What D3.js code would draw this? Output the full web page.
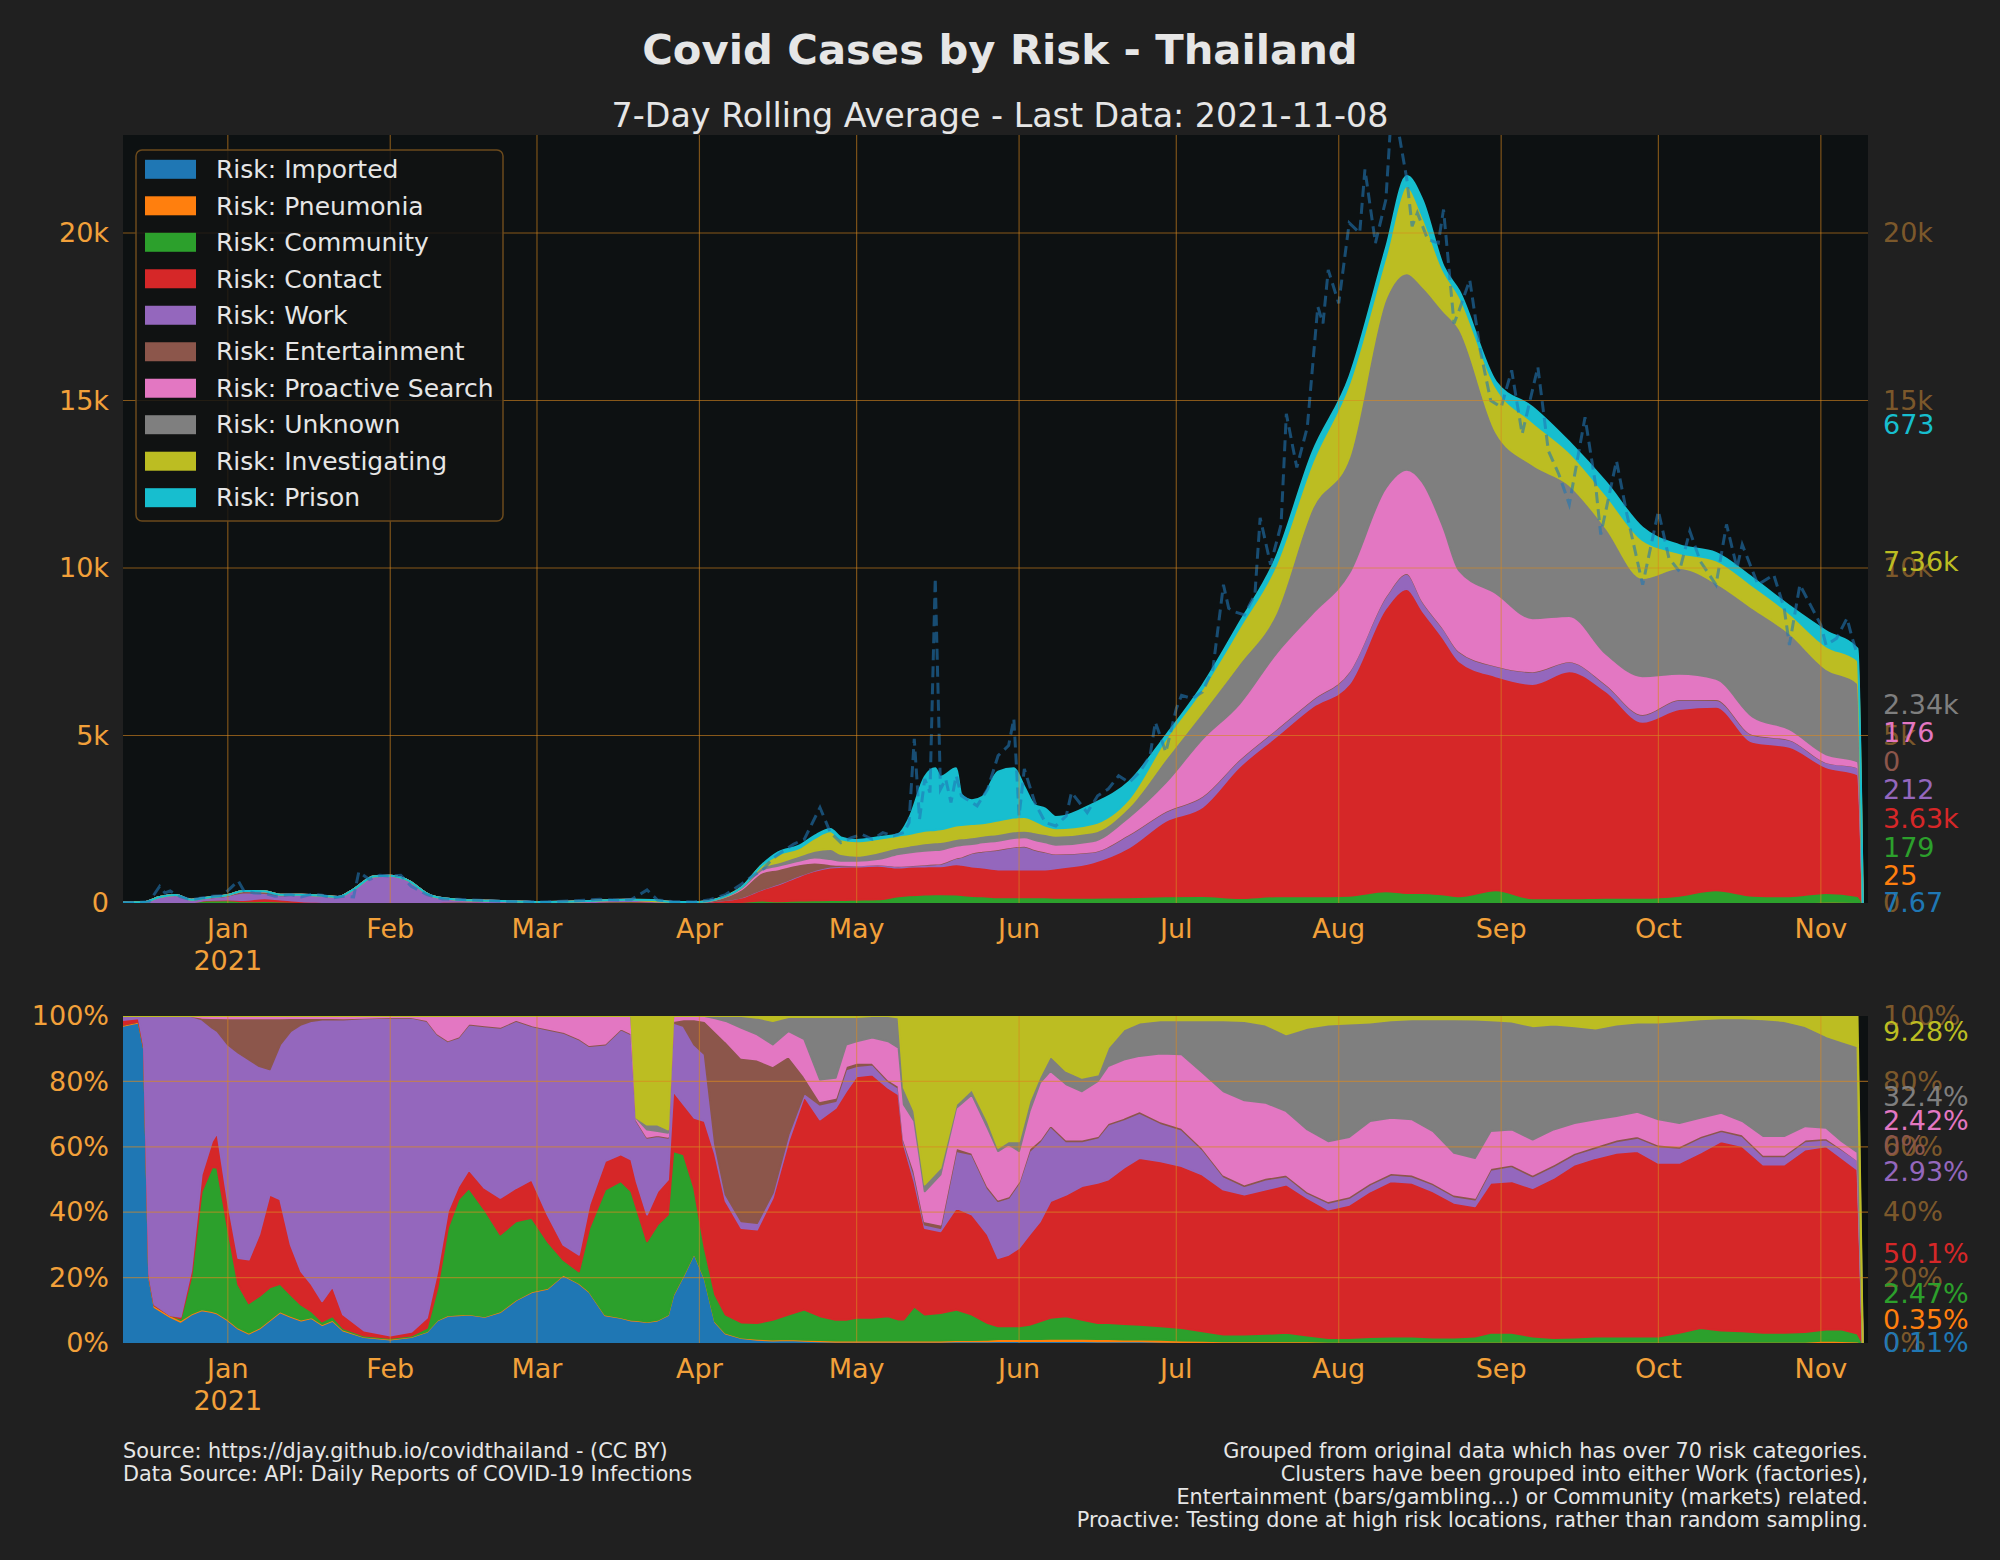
<!DOCTYPE html>
<html>
<head>
<meta charset="utf-8">
<script src="https://cdn.jsdelivr.net/npm/d3@7"></script>
<style>
  body { margin: 0; background: #202020; }
  text { font-family: "DejaVu Sans", sans-serif; }
</style>
</head>
<body>
<div id="chart"></div>
<script>
//------------------------------------------------ data ------------------------------------------------
const riskKeys = ["Imported","Pneumonia","Community","Contact","Work","Entertainment","Proactive Search","Unknown","Investigating","Prison"];
const riskColors = ["#1f77b4","#ff7f0e","#2ca02c","#d62728","#9467bd","#8c564b","#e377c2","#7f7f7f","#bcbd22","#17becf"];

// top chart: 7 day rolling average of cases by risk
const topDates = [
  "2020-12-12","2020-12-16","2020-12-19","2020-12-22","2020-12-25","2020-12-28",
  "2021-01-01","2021-01-04","2021-01-08","2021-01-11","2021-01-15","2021-01-19","2021-01-22","2021-01-25","2021-01-29",
  "2021-02-01","2021-02-04","2021-02-09","2021-02-14","2021-02-20","2021-02-26",
  "2021-03-01","2021-03-06","2021-03-11","2021-03-15","2021-03-19","2021-03-23","2021-03-27",
  "2021-04-01","2021-04-04","2021-04-09","2021-04-13","2021-04-16","2021-04-20","2021-04-23","2021-04-26","2021-04-28",
  "2021-05-01","2021-05-05","2021-05-09","2021-05-11","2021-05-14","2021-05-16","2021-05-17","2021-05-20","2021-05-21","2021-05-23","2021-05-25","2021-05-28","2021-05-31",
  "2021-06-02","2021-06-04","2021-06-06","2021-06-08","2021-06-15","2021-06-22","2021-06-29",
  "2021-07-06","2021-07-13","2021-07-20","2021-07-27",
  "2021-08-03","2021-08-10","2021-08-14","2021-08-17","2021-08-21","2021-08-24","2021-08-31",
  "2021-09-07","2021-09-14","2021-09-21","2021-09-28",
  "2021-10-05","2021-10-12","2021-10-19","2021-10-26",
  "2021-11-02","2021-11-08","2021-11-09"];
const topImported = [15,27,16,17,9,16, 17,14,21,24,18,13,8,10,12, 12,12,10,9,6,6, 5,7,10,7,7,6,4,
  7,7,9,10,10,8,8,7,6, 6,5,5,5,5,5,5,5,5,5,5,5,5, 5,5,5,5,5,5,5, 5,5,5,5, 5,5,5,5,5,5,5, 5,5,5,5, 5,5,5,5, 10,7.67,0];
const topPneumonia = [0,0,0,0,0,0, 0,0,0,0,0,0,0,0,0, 0,0,0,0,0,0, 0,0,0,0,0,0,0,
  0,0,2,3,3,4,4,4,4, 4,5,5,5,5,5,5,5,5,5,5,5,5, 5,5,5,5,5,5,5, 5,5,10,10, 15,15,15,15,15,15,15, 15,15,15,15, 15,15,15,15, 30,25,0];
const topCommunity = [0,0,0,0,11,61, 67,36,38,21,7,2,0,2,0, 0,0,6,34,17,9, 6,2,11,36,39,26,13,
  4,8,20,60,40,60,70,80,80, 90,100,190,220,240,250,250,240,230,200,190,160,160, 160,160,160,150,150,160,190,
  200,140,185,185, 200,330,280,280,230,180,360, 120,120,140,140, 200,360,200,180, 260,179,0];
const topContact = [0,0,0,0,2,10, 19,40,84,60,28,16,8,7,8, 8,9,11,4,6,4, 3,2,4,7,10,9,6,
  9,43,130,330,497,728,878,969,990, 990,1000,860,850,840,840,840,910,900,880,860,830,830, 830,830,830,880,1050,1490,2250,
  2660,3910,4760,5660, 6320,8450,9070,8420,7640,7020,6390, 6400,6780,6160,5250, 5570,5480,4590,4460, 3760,3630,0];
const topWork = [0,3,164,223,78,73, 116,227,154,128,193,188,163,390,779, 794,683,173,46,38,20, 15,22,29,35,38,16,7,
  7,4,10,15,20,20,20,30,30, 30,40,40,40,50,60,70,180,230,400,480,590,670, 690,590,520,420,310,380,280,
  310,210,210,210, 360,350,460,280,290,280,300, 360,280,200,210, 280,200,210,210, 140,212,0];
const topEntertainment = [0,0,0,0,0,0, 20,40,49,15,3,0,0,0,0, 0,0,0,0,0,0, 0,0,0,0,0,0,0,
  3,34,232,500,440,340,230,70,30, 10,10,10,10,20,20,20,20,20,20,20,20,20, 20,20,20,20,20,20,20,
  20,20,20,20, 20,20,20,20,20,20,20, 20,20,20,20, 20,30,20,20, 10,0,0];
const topProactive = [0,0,0,0,0,0, 1,3,4,2,1,1,1,1,1, 1,1,10,7,3,1, 1,2,6,5,6,3,0,
  0,4,43,80,100,100,150,150,120, 130,150,350,380,400,400,400,350,340,250,250,250,250, 250,270,270,260,300,510,850,
  1700,1650,2250,2560, 2930,3230,3080,3540,3000,2400,2160, 1580,1350,900,1130, 750,600,520,300, 230,176,0];
const topUnknown = [0,0,0,0,0,0, 0,0,0,0,0,0,0,0,0, 0,0,0,0,0,0, 0,0,0,0,0,1,0,
  0,0,14,80,100,150,200,300,200, 150,200,200,200,220,230,230,200,200,200,200,200,200, 200,230,250,270,270,300,700,
  800,1200,1210,3150, 3450,5650,5870,5840,6470,7220,4810, 4580,3910,3760,2930, 3160,2860,3240,2860, 2550,2340,0];
const topInvestigating = [0,0,0,0,0,0, 0,0,0,0,0,0,0,0,0, 0,0,0,0,0,0, 0,0,0,0,0,29,0,
  0,0,0,60,230,230,380,530,440, 430,400,350,350,380,370,380,400,400,400,370,400,410, 410,350,250,220,250,250,600,
  700,1060,1430,1360, 2200,1250,2600,2100,1200,980,1340, 1280,980,980,1130, 450,680,670,600, 680,673,0];
const topPrison = [0,0,0,0,0,0, 0,0,0,0,0,0,0,0,0, 0,0,0,0,0,0, 0,0,0,0,0,0,0,
  0,0,0,12,70,70,70,70,60, 40,50,50,460,1610,1840,1570,1710,900,710,790,1460,1470, 900,460,510,340,590,500,100,
  100,150,220,300, 200,250,300,480,130,150,160, 440,300,380,370, 230,220,230,220, 450,350,0];

// raw daily total (dashed line)
const dailyDates = [
  "2020-12-12","2020-12-15","2020-12-17","2020-12-19","2020-12-20","2020-12-21","2020-12-23","2020-12-25","2020-12-27","2020-12-29","2020-12-31",
  "2021-01-03","2021-01-04","2021-01-06","2021-01-08","2021-01-10","2021-01-13","2021-01-15","2021-01-17","2021-01-19","2021-01-21","2021-01-23","2021-01-25","2021-01-26","2021-01-28","2021-01-30",
  "2021-02-01","2021-02-03","2021-02-05","2021-02-08","2021-02-11","2021-02-14","2021-02-18","2021-02-22","2021-02-26",
  "2021-03-02","2021-03-07","2021-03-10","2021-03-13","2021-03-16","2021-03-19","2021-03-22","2021-03-24","2021-03-27","2021-03-31",
  "2021-04-03","2021-04-06","2021-04-09","2021-04-11","2021-04-13","2021-04-15","2021-04-17","2021-04-19","2021-04-21","2021-04-24","2021-04-26","2021-04-28","2021-04-30",
  "2021-05-02","2021-05-04","2021-05-06","2021-05-08","2021-05-10","2021-05-11","2021-05-12","2021-05-13","2021-05-14","2021-05-15","2021-05-16","2021-05-17","2021-05-18","2021-05-19","2021-05-20","2021-05-21","2021-05-22","2021-05-24","2021-05-26","2021-05-28","2021-05-30","2021-05-31",
  "2021-06-01","2021-06-02","2021-06-04","2021-06-06","2021-06-08","2021-06-10","2021-06-11","2021-06-12","2021-06-14","2021-06-16","2021-06-18","2021-06-20","2021-06-22","2021-06-24","2021-06-26","2021-06-27","2021-06-29",
  "2021-07-01","2021-07-02","2021-07-04","2021-07-06","2021-07-08","2021-07-10","2021-07-11","2021-07-12","2021-07-14","2021-07-16","2021-07-17","2021-07-19","2021-07-21","2021-07-22","2021-07-24","2021-07-26","2021-07-28","2021-07-29","2021-07-30",
  "2021-08-01","2021-08-03","2021-08-05","2021-08-06","2021-08-08","2021-08-10","2021-08-11","2021-08-12","2021-08-14","2021-08-15","2021-08-16","2021-08-18","2021-08-20","2021-08-21","2021-08-23","2021-08-24","2021-08-26","2021-08-28","2021-08-30",
  "2021-09-01","2021-09-03","2021-09-05","2021-09-08","2021-09-10","2021-09-12","2021-09-14","2021-09-17","2021-09-19","2021-09-20","2021-09-23","2021-09-25","2021-09-28",
  "2021-10-01","2021-10-03","2021-10-05","2021-10-07","2021-10-09","2021-10-12","2021-10-14","2021-10-16","2021-10-17","2021-10-20","2021-10-23","2021-10-25","2021-10-26","2021-10-28","2021-10-30",
  "2021-11-01","2021-11-02","2021-11-04","2021-11-06","2021-11-07","2021-11-08"];
const dailyCases = [
  10,20,40,500,300,360,180,100,150,200,220,
  660,380,300,290,200,250,180,260,230,150,200,180,930,700,830,
  800,830,500,250,120,110,80,50,40,
  30,60,80,110,90,100,390,90,40,30,
  100,250,560,790,980,1330,1550,1760,1900,2850,2100,1800,1950,
  2050,1900,2100,2000,2100,2400,4900,2500,3700,3300,9700,3400,3700,3000,3800,3200,3100,2900,3400,4400,4700,5500,
  2600,4000,3000,2400,2300,2600,3300,3100,2700,3200,3400,3800,3600,3900,4400,5400,4500,
  5800,6200,6100,6300,7000,9500,8800,8700,8600,9200,11500,10100,11300,14600,13000,14200,17800,17300,18900,
  17900,20300,20000,21900,19700,21000,23500,23400,21600,20200,20600,19800,19700,20700,17300,17700,18600,16500,15000,
  14800,15900,14000,16000,13500,12800,11900,14500,12500,11000,13200,11600,9500,
  11700,10300,9900,11100,10200,9500,11300,10000,10700,9500,9800,8800,7700,9500,8900,
  8300,7700,7900,8500,7900,7400];

// bottom chart: share of cases by risk (percent, prison not included)
const pctDates = [
  "2020-12-12","2020-12-15","2020-12-16","2020-12-17","2020-12-18","2020-12-21","2020-12-23","2020-12-25","2020-12-27","2020-12-29","2020-12-30",
  "2021-01-01","2021-01-03","2021-01-05","2021-01-07","2021-01-09","2021-01-11","2021-01-13","2021-01-15","2021-01-17","2021-01-19","2021-01-21","2021-01-23","2021-01-27",
  "2021-02-01","2021-02-05","2021-02-08","2021-02-10","2021-02-12","2021-02-14","2021-02-16","2021-02-19","2021-02-22","2021-02-25","2021-02-28",
  "2021-03-03","2021-03-06","2021-03-09","2021-03-11","2021-03-14","2021-03-17","2021-03-19","2021-03-20","2021-03-22","2021-03-24","2021-03-26","2021-03-27","2021-03-29","2021-03-31",
  "2021-04-02","2021-04-04","2021-04-06","2021-04-09","2021-04-12","2021-04-15","2021-04-18","2021-04-21","2021-04-24","2021-04-27","2021-04-29",
  "2021-05-01","2021-05-04","2021-05-07","2021-05-09","2021-05-10","2021-05-12","2021-05-14","2021-05-17","2021-05-20","2021-05-23","2021-05-26","2021-05-28","2021-05-30",
  "2021-06-01","2021-06-03","2021-06-05","2021-06-07","2021-06-10","2021-06-13","2021-06-16","2021-06-18","2021-06-21","2021-06-24","2021-06-28",
  "2021-07-02","2021-07-06","2021-07-10","2021-07-14","2021-07-18","2021-07-22","2021-07-26","2021-07-30",
  "2021-08-03","2021-08-07","2021-08-11","2021-08-15","2021-08-19","2021-08-23","2021-08-27","2021-08-30",
  "2021-09-03","2021-09-07","2021-09-11","2021-09-15","2021-09-19","2021-09-23","2021-09-27",
  "2021-10-01","2021-10-05","2021-10-09","2021-10-13","2021-10-17","2021-10-21","2021-10-25","2021-10-29",
  "2021-11-02","2021-11-05","2021-11-08","2021-11-09"];
const pctImported = [97,98,90,20,11,8,6.5,8.7,10,9.5,9,
  7,4.4,2.9,4.4,6.9,9.4,8,6.9,7.6,5.5,6.8,3.8,1.8,
  1.1,1.8,3.4,6.9,8.3,8.5,8.7,8,9.5,13.1,15.6,
  16.6,20.7,18.2,15.6,8.5,7.7,6.9,6.8,6.4,6.9,8.5,14.6,20.7,27.4,
  19.7,6.4,2.9,1.5,1,0.8,0.9,0.7,0.5,0.4,0.4,
  0.4,0.4,0.4,0.4,0.4,0.4,0.4,0.4,0.5,0.5,0.5,0.6,0.6,
  0.6,0.6,0.6,0.6,0.6,0.6,0.5,0.5,0.5,0.5,0.4,
  0.3,0.2,0.1,0.1,0.1,0.1,0.1,0.1,
  0.1,0.1,0.1,0.1,0.1,0.1,0.1,0.1,
  0.1,0.1,0.1,0.1,0.1,0.1,0.1,
  0.1,0.1,0.1,0.1,0.1,0.1,0.1,0.1,
  0.3,0.2,0.11,0];
const pctPneumonia = [0.3,0.3,0.3,0.5,0.5,0.5,0.5,0.3,0.3,0.3,0.3,
  0.3,0.3,0.3,0.3,0.3,0.3,0.3,0.3,0.3,0.3,0.3,0.3,0.2,
  0.2,0.2,0.2,0.2,0.2,0.2,0.2,0.2,0.2,0.2,0.2,
  0.2,0.2,0.2,0.2,0.2,0.2,0.2,0.2,0.2,0.2,0.2,0.2,0.2,0.2,
  0.2,0.2,0.2,0.2,0.3,0.3,0.3,0.3,0.4,0.4,0.4,
  0.4,0.4,0.4,0.4,0.4,0.4,0.4,0.4,0.4,0.4,0.5,0.6,0.6,
  0.6,0.6,0.6,0.7,0.7,0.7,0.7,0.7,0.6,0.6,0.6,
  0.5,0.5,0.4,0.4,0.4,0.4,0.4,0.3,
  0.3,0.3,0.3,0.3,0.3,0.3,0.3,0.3,
  0.3,0.3,0.3,0.3,0.3,0.3,0.3,
  0.3,0.3,0.3,0.3,0.3,0.3,0.3,0.3,
  0.5,0.4,0.35,0];
const pctCommunity = [0,0,0,0,0,0,0.5,11,36,44,44.3,
  27.9,13.2,9,9.6,9.8,8.4,6.5,4.5,1.8,0.8,1.1,0.5,0.3,
  0.2,0.3,1,9.7,26.7,35.2,38.5,32.6,23.5,23.9,22.5,
  14.3,4.6,3.5,19.4,38.2,41.6,39.3,34.3,24.5,29.1,30.6,43.9,36.8,19.8,
  9.2,8.2,5.6,4.6,4.8,6,7.5,9.2,7.3,6.3,6.3,
  6.9,6.9,7.4,6.4,6.4,10.4,7.9,8.4,9.3,7.8,5.1,3.9,3.9,
  3.9,4.4,5.4,6.4,6.9,5.8,4.9,4.9,4.7,4.5,4.1,
  3.8,2.9,2.1,2.1,2.3,2.6,1.8,1.1,
  1.1,1.4,1.6,1.6,1.3,1.3,1.6,2.7,
  2.7,1.6,1.1,1.3,1.6,1.6,1.6,
  1.6,2.7,4.2,3.4,3.2,2.7,2.7,3,
  3.3,3.5,2.47,0];
const pctContact = [1.5,1,0.5,0.5,0.3,0,0.5,2,5.2,7.9,10.7,
  8.2,8.1,13.3,18.9,28.4,25.8,15.3,10.2,8.2,6.2,9.1,4.1,1.5,
  0.8,1.1,3.1,5.1,5.1,4,5.6,6.6,11.2,10.2,11.7,
  8.2,4.6,5.1,7.1,8.7,8.2,9.7,8.2,8.2,10.2,10.7,18.3,15.3,21.5,
  38.8,42.9,34.7,28.9,28.6,37.3,53,65.3,60.2,64.8,69.9,
  73.9,74.4,69.9,68.8,53.5,38.3,26.5,25,31.1,30.6,27.1,20.9,21.9,
  24,27.6,30.6,35.7,37.2,40.9,42.9,43.9,47.8,51,50.5,
  49.5,47.9,44.3,42.8,44.1,45.4,42.1,39.3,
  40.8,44.6,47.5,47,44.7,41.2,39.8,45.9,
  46.4,45.4,49,52.9,54.6,56.2,56.7,
  53.1,52,53.6,57.9,56.6,51.5,51.5,55.8,
  56.1,52.5,50.1,0];
const pctWork = [1.2,0.7,9.2,79,88.2,91.5,92,78,47.5,34.7,31.1,
  47.9,62.8,61.2,51.5,38.3,47.4,65.3,75.5,80.6,86.1,81.6,90.2,95.5,
  97.2,96.1,90.8,72.5,52,45.5,44.4,49.5,52,51.1,46.9,
  56.6,64.8,65.9,48.5,35.7,38.2,38.3,18.4,23.5,16.9,12.8,21,23.9,22.4,
  20.4,3,2,2,2,1.5,2.1,1,4.5,2.1,6.7,
  3.1,3.1,2,2,1,2,1,1,17.4,18.4,14.2,17.4,17.4,
  19.9,25.5,24.5,22.9,16.3,13.7,13.8,16.8,14.8,13.8,11.7,
  11.2,7.7,4.1,2.6,3.1,2.5,1.5,2.1,
  2.1,2.1,2,2,2.1,2,2.1,4,
  4.6,3.6,3.6,3.1,3.1,3.5,4.1,
  5.1,4.6,4.6,3.1,3.1,2.5,2.5,2.5,
  2,2.6,2.93,0];
const pctEntertainment = [0,0,0,0,0,0,0,0,0.5,3,4,
  8,10.5,12.6,14.6,15.6,8,4,2,0.9,0.5,0.5,0.4,0.2,
  0.2,0.2,0.3,0.3,0.3,0.3,0.3,0.3,0.3,0.3,0.3,
  0.3,0.3,0.3,0.3,0.3,0.3,0.3,0.3,0.3,0.3,0.3,0.5,2.1,7.7,
  10.2,34.7,46.9,50,50,38.8,24,5.1,1.1,1,1,
  1,0.5,0.5,0.6,0.5,1.1,1,1,1,0.5,0.6,0.5,0.5,
  0.5,0.8,0.5,0.5,0.5,0.5,0.5,0.5,0.5,0.5,0.5,
  0.5,0.5,0.5,0.5,0.5,0.5,0.5,0.5,
  0.5,0.5,0.5,0.5,0.5,0.5,0.5,0.5,
  0.5,0.5,0.5,0.5,0.5,0.5,0.5,
  0.5,0.5,0.5,0.5,0.5,0.5,0.5,0.5,
  0.5,0.2,0,0];
const pctProactive = [0,0,0,0,0,0,0,0,0.5,0.6,0.6,
  0.7,0.7,0.7,0.7,0.7,0.7,0.6,0.6,0.6,0.6,0.6,0.7,0.5,
  0.3,0.3,1.2,5.3,7.4,6.3,2.3,2.8,3.3,1.2,2.8,
  3.8,4.8,6.8,8.9,8.4,3.8,5.3,0.5,2.2,1.2,1.2,1.5,1,1,
  1.5,3.9,6.2,9.2,7.7,6.6,7.6,11.3,6.6,6.1,6.6,
  6.6,7.7,11.7,11.7,10.7,15.3,9.2,15.3,12.2,17.8,17.8,14.8,15.8,
  9.2,11.4,17.4,16.4,16.9,14.8,16.8,17.4,17.8,16.9,20.7,
  22.5,23,25.5,25.7,23,19.4,18.9,18.3,
  18.1,18.9,16.9,16.9,15.8,12.8,12.2,11.3,
  10.7,10.7,10.7,9.1,8.2,7.2,7.4,
  7.7,7.1,5.6,5.1,4.1,5.7,5.7,4.1,
  3.1,2.3,2.42,0];
const pctUnknown = [0,0,0,0,0,0,0,0,0,0,0,
  0,0,0,0,0,0,0,0,0,0,0,0,0,
  0,0,0,0,0,0,0,0,0,0,0,
  0,0,0,0,0,0,0,0.2,1.5,2,1,0,0,0,
  0,0.7,1.5,3.6,5.1,7.2,4.3,6.8,19.1,18.6,8.4,
  7.4,6.6,7.7,9.2,5.1,3,2.1,2.1,1.1,1.6,2.1,1,1,
  3,3.1,2,4.6,4.1,4.1,2,5.6,9.2,10.2,10.2,
  10.4,16,21.7,24.3,23.9,23.5,31.1,35.7,
  34.7,30.1,29.8,30.6,34.2,40.8,42.3,33.9,
  33,34.7,32.1,29.6,27.8,28,27.3,
  29.6,31.2,30.1,28.9,31.4,35.7,35.2,30.6,
  28.1,30.6,32.4,0];
const pctInvestigating = [0,0,0,0,0,0,0,0,0,0,0,
  0,0,0,0,0,0,0,0,0,0,0,0,0,
  0,0,0,0,0,0,0,0,0,0,0,
  0,0,0,0,0,0,0,31.1,33.2,33.2,34.7,0,0,0,
  0,0,0,0,0.5,1.5,0.3,0.3,0.3,0.3,0.3,
  0.3,0,0,0.5,21.9,29.1,51.5,46.4,27,22.4,32.1,40.3,38.3,
  38.3,26,18.4,12.2,16.8,18.9,17.9,9.7,4.1,2,1.3,
  1.3,1.3,1.3,1.5,2.6,5.6,3.6,2.6,
  2.3,2,1.3,1,1,1,1.1,1.3,
  1.7,3.1,2.6,3.1,3.8,2.6,2,
  2,1.5,1,0.7,0.7,1,1.5,3.1,
  6.1,7.7,9.28,0];

// labels at the right edge (last values)
const topLabelText = ["7.67","25","179","3.63k","212","0","176","2.34k","7.36k","673"];
const topLabelAt   = [0, 806, 1663, 2525, 3379, 4224, 5075, 5919, 10194, 14275];
const pctLabelText = ["0.11%","0.35%","2.47%","50.1%","2.93%","0%","2.42%","32.4%","9.28%"];
const pctLabelAt   = [0, 7.3, 15.0, 27.4, 52.4, 60.5, 68.0, 75.5, 95.2];

const topTicks = [0, 5000, 10000, 15000, 20000];
const pctTicks = [0, 0.2, 0.4, 0.6, 0.8, 1];

const titleText = "Covid Cases by Risk - Thailand";
const subtitleText = "7-Day Rolling Average - Last Data: 2021-11-08";
const footLeft = ["Source: https://djay.github.io/covidthailand - (CC BY)",
                  "Data Source: API: Daily Reports of COVID-19 Infections"];
const footRight = ["Grouped from original data which has over 70 risk categories.",
                   "Clusters have been grouped into either Work (factories),",
                   "Entertainment (bars/gambling...) or Community (markets) related.",
                   "Proactive: Testing done at high risk locations, rather than random sampling."];

//------------------------------------------------ layout ------------------------------------------------
const W = 2000, H = 1560;
const left = 123, right = 1868;
const top1 = 135, bot1 = 903;
const top2 = 1016, bot2 = 1343;
const orange = "#f2a03a";
const gridCol = "#d9891f";
const textCol = "#e6e6e6";
const parse = d3.utcParse("%Y-%m-%d");

const svg = d3.select("#chart").append("svg")
  .attr("width", W).attr("height", H);
svg.append("rect").attr("width", W).attr("height", H).attr("fill", "#202020");

const x = d3.scaleUtc().domain([parse("2020-12-12"), parse("2021-11-10")]).range([left, right]);
const yTop = d3.scaleLinear().domain([0, 22925]).range([bot1, top1]);
const yPct = d3.scaleLinear().domain([0, 1]).range([bot2, top2]);
const months = d3.utcMonth.range(parse("2021-01-01"), parse("2021-11-02"));

//------------------------------------------------ build rows ------------------------------------------------
const topSeries = [topImported, topPneumonia, topCommunity, topContact, topWork, topEntertainment,
                   topProactive, topUnknown, topInvestigating, topPrison];
const pctSeries = [pctImported, pctPneumonia, pctCommunity, pctContact, pctWork, pctEntertainment,
                   pctProactive, pctUnknown, pctInvestigating];

const topRows = topDates.map((d, i) => {
  const r = { date: parse(d) };
  riskKeys.forEach((k, j) => r[k] = topSeries[j][i]);
  return r;
});
const pctKeys = riskKeys.slice(0, 9);
const pctRows = pctDates.map((d, i) => {
  const r = { date: parse(d) };
  pctKeys.forEach((k, j) => r[k] = pctSeries[j][i]);
  return r;
});

const topStack = d3.stack().keys(riskKeys)(topRows);
const pctStack = d3.stack().keys(pctKeys).offset(d3.stackOffsetExpand)(pctRows);

//------------------------------------------------ panels ------------------------------------------------
function panel(id, y0, y1) {
  svg.append("clipPath").attr("id", id)
    .append("rect").attr("x", left).attr("y", y0).attr("width", right - left).attr("height", y1 - y0);
  svg.append("rect").attr("x", left).attr("y", y0).attr("width", right - left).attr("height", y1 - y0)
    .attr("fill", "#0d1112");
  return svg.append("g").attr("clip-path", "url(#" + id + ")");
}

const g1 = panel("clipTop", top1, bot1);
const g2 = panel("clipPct", top2, bot2);

const areaTop = d3.area()
  .x(d => x(d.data.date))
  .y0(d => yTop(d[0]))
  .y1(d => yTop(d[1]))
  .curve(d3.curveMonotoneX);

g1.selectAll("path.layer")
  .data(topStack)
  .enter()
  .append("path")
    .attr("class", "layer")
    .attr("d", areaTop)
    .attr("fill", (d, i) => riskColors[i])
    .attr("stroke", (d, i) => riskColors[i])
    .attr("stroke-width", 2)
    .attr("stroke-linejoin", "round");

const areaPct = d3.area()
  .x(d => x(d.data.date))
  .y0(d => yPct(d[0]))
  .y1(d => yPct(d[1]));

g2.selectAll("path.layer")
  .data(pctStack)
  .enter()
  .append("path")
    .attr("class", "layer")
    .attr("d", areaPct)
    .attr("fill", (d, i) => riskColors[i])
    .attr("stroke", (d, i) => riskColors[i])
    .attr("stroke-width", 2)
    .attr("stroke-linejoin", "round");

// dashed raw total line
const daily = dailyDates.map((d, i) => ({ date: parse(d), v: dailyCases[i] }));
g1.append("path")
  .datum(daily)
  .attr("d", d3.line().x(d => x(d.date)).y(d => yTop(d.v)))
  .attr("fill", "none")
  .attr("stroke", "#1f77b4")
  .attr("stroke-opacity", 0.6)
  .attr("stroke-width", 3)
  .attr("stroke-dasharray", "11,6");

//------------------------------------------------ grid ------------------------------------------------
function grid(g, yScale, ticks) {
  g.selectAll("line.vgrid")
    .data(months)
    .enter()
    .append("line")
      .attr("x1", d => x(d)).attr("x2", d => x(d))
      .attr("y1", yScale.range()[1]).attr("y2", yScale.range()[0])
      .attr("stroke", gridCol).attr("stroke-opacity", 0.55).attr("stroke-width", 1.2);
  g.selectAll("line.hgrid")
    .data(ticks)
    .enter()
    .append("line")
      .attr("x1", left).attr("x2", right)
      .attr("y1", d => yScale(d)).attr("y2", d => yScale(d))
      .attr("stroke", gridCol).attr("stroke-opacity", 0.6).attr("stroke-width", 1.2);
}
grid(g1, yTop, topTicks.slice(1));
grid(g2, yPct, pctTicks.slice(1, 5));

//------------------------------------------------ axes ------------------------------------------------
function styleAxis(sel, color, opacity) {
  sel.select(".domain").remove();
  sel.attr("font-size", 27).attr("font-family", "DejaVu Sans").attr("color", color);
  sel.selectAll("text").attr("fill-opacity", opacity);
}
const kFmt = d => d === 0 ? "0" : d3.format("~s")(d);

svg.append("g").attr("transform", "translate(" + left + ",0)")
  .call(d3.axisLeft(yTop).tickValues(topTicks).tickFormat(kFmt).tickSize(0).tickPadding(14))
  .call(s => styleAxis(s, orange, 1));
svg.append("g").attr("transform", "translate(" + right + ",0)")
  .call(d3.axisRight(yTop).tickValues(topTicks).tickFormat(kFmt).tickSize(0).tickPadding(15))
  .call(s => styleAxis(s, orange, 0.45));
svg.append("g").attr("transform", "translate(" + left + ",0)")
  .call(d3.axisLeft(yPct).tickValues(pctTicks).tickFormat(d3.format(".0%")).tickSize(0).tickPadding(14))
  .call(s => styleAxis(s, orange, 1));
svg.append("g").attr("transform", "translate(" + right + ",0)")
  .call(d3.axisRight(yPct).tickValues(pctTicks).tickFormat(d3.format(".0%")).tickSize(0).tickPadding(15))
  .call(s => styleAxis(s, orange, 0.45));

// month labels under both charts
[bot1, bot2].forEach(base => {
  const t = svg.append("g");
  t.selectAll("text")
    .data(months)
    .enter()
    .append("text")
      .attr("x", d => x(d))
      .attr("y", base + 35)
      .attr("text-anchor", "middle")
      .attr("font-size", 27)
      .attr("fill", orange)
      .text(d => d3.utcFormat("%b")(d));
  t.append("text")
    .attr("x", x(months[0]))
    .attr("y", base + 67)
    .attr("text-anchor", "middle")
    .attr("font-size", 27)
    .attr("fill", orange)
    .text("2021");
});

//------------------------------------------------ right labels ------------------------------------------------
svg.selectAll("text.toplab")
  .data(topLabelText)
  .enter()
  .append("text")
    .attr("class", "toplab")
    .attr("x", 1883)
    .attr("y", (d, i) => yTop(topLabelAt[i]))
    .attr("dy", "0.35em")
    .attr("font-size", 27)
    .attr("fill", (d, i) => riskColors[i])
    .text(d => d);

svg.selectAll("text.pctlab")
  .data(pctLabelText)
  .enter()
  .append("text")
    .attr("class", "pctlab")
    .attr("x", 1883)
    .attr("y", (d, i) => yPct(pctLabelAt[i] / 100))
    .attr("dy", "0.35em")
    .attr("font-size", 27)
    .attr("fill", (d, i) => riskColors[i])
    .text(d => d);

//------------------------------------------------ legend ------------------------------------------------
const legend = svg.append("g");
legend.append("rect")
  .attr("x", 136).attr("y", 150).attr("width", 367).attr("height", 371)
  .attr("rx", 6)
  .attr("fill", "#121313").attr("fill-opacity", 0.85)
  .attr("stroke", "#6b4a1c").attr("stroke-width", 1.5);

const rowY = d3.scaleLinear().domain([0, 9]).range([169.3, 497.7]);
const items = legend.selectAll("g.item")
  .data(riskKeys)
  .enter()
  .append("g")
    .attr("class", "item")
    .attr("transform", (d, i) => "translate(0," + rowY(i) + ")");
items.append("rect")
  .attr("x", 145).attr("y", -9.5).attr("width", 51).attr("height", 19)
  .attr("fill", (d, i) => riskColors[i]);
items.append("text")
  .attr("x", 216).attr("dy", "0.35em")
  .attr("font-size", 25)
  .attr("fill", textCol)
  .text(d => "Risk: " + d);

//------------------------------------------------ titles ------------------------------------------------
svg.append("text")
  .attr("x", 1000).attr("y", 64)
  .attr("text-anchor", "middle")
  .attr("font-size", 41.7).attr("font-weight", "bold")
  .attr("fill", textCol)
  .text(titleText);
svg.append("text")
  .attr("x", 1000).attr("y", 127)
  .attr("text-anchor", "middle")
  .attr("font-size", 33.3)
  .attr("fill", textCol)
  .text(subtitleText);

svg.selectAll("text.footl")
  .data(footLeft)
  .enter()
  .append("text")
    .attr("class", "footl")
    .attr("x", left).attr("y", (d, i) => 1458 + i * 23)
    .attr("font-size", 20.8).attr("fill", textCol)
    .text(d => d);
svg.selectAll("text.footr")
  .data(footRight)
  .enter()
  .append("text")
    .attr("class", "footr")
    .attr("x", right).attr("y", (d, i) => 1458 + i * 23)
    .attr("text-anchor", "end")
    .attr("font-size", 20.8).attr("fill", textCol)
    .text(d => d);
</script>
